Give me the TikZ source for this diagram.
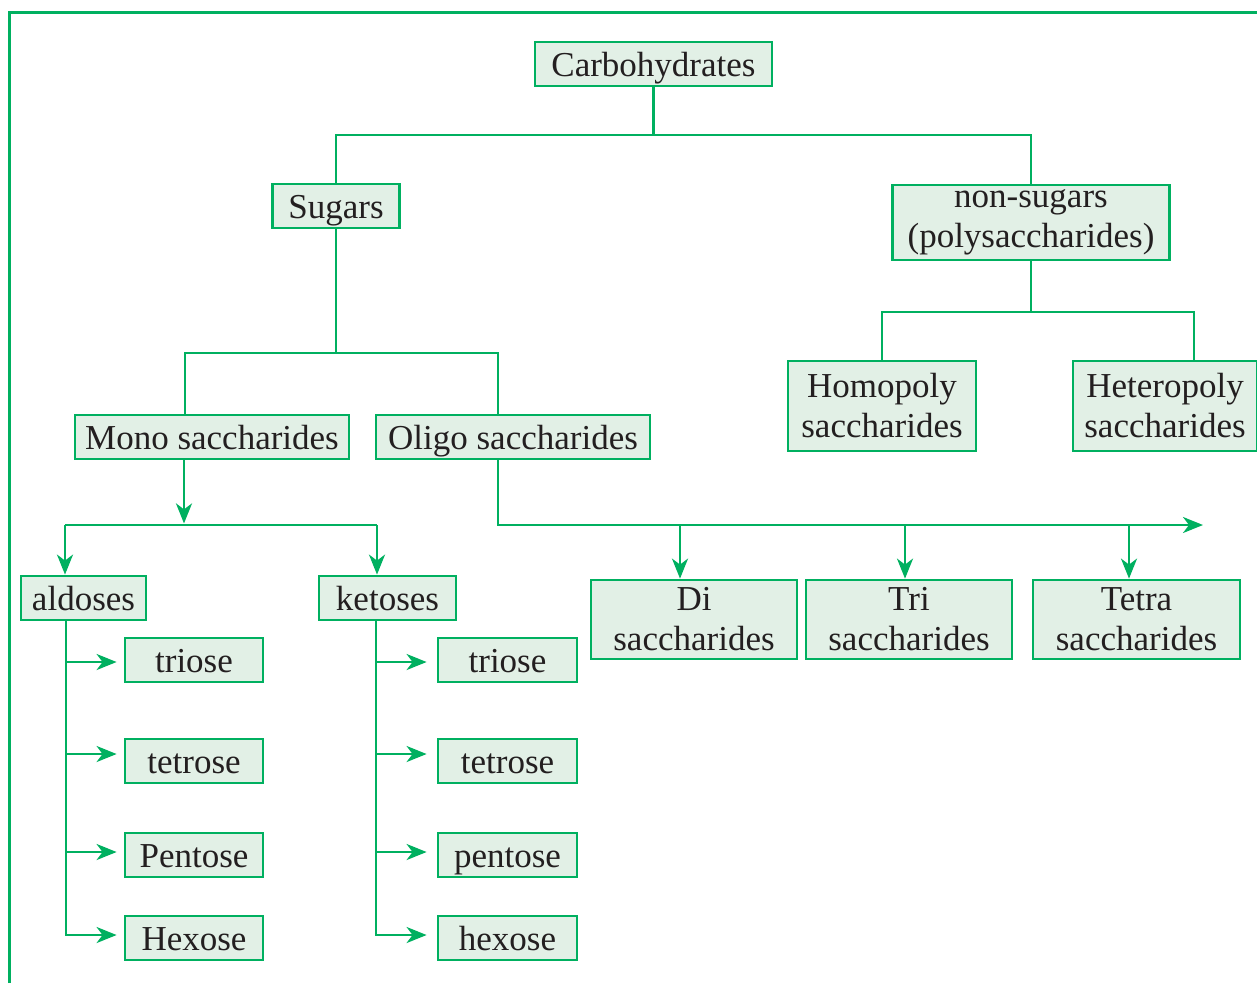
\documentclass[tikz,border=0pt]{standalone}
\usepackage{fontspec}
\setmainfont{Liberation Serif}
\usetikzlibrary{arrows.meta}
\definecolor{grn}{RGB}{0,176,96}
\definecolor{boxfill}{RGB}{226,240,230}
\definecolor{ink}{RGB}{35,31,32}
\begin{document}
\begin{tikzpicture}[x=1pt,y=-1pt,
  box/.style={draw=grn,fill=boxfill,line width=2.8pt,inner sep=0pt,align=center,
              text=ink,font=\fontsize{35}{40}\selectfont},
  one/.style={box,text height=30pt,text depth=6pt},
  link/.style={draw=grn,line width=2.6pt},
  arr/.style={link,-{Stealth[length=20pt,width=16pt,inset=6pt]}},
  rarr/.style={link,{Stealth[length=20pt,width=16pt,inset=6pt]}-}]
\useasboundingbox (0,0) rectangle (1257,983);
% outer frame
\draw[grn,line width=3pt] (9,983) -- (9,12) -- (1257,12);

% boxes
\node[one,minimum width=237,minimum height=44] (carb) at (653.5,64) {Carbohydrates};
\node[one,minimum width=127,minimum height=44] (sugars) at (336,206) {Sugars};
\node[box,minimum width=277,minimum height=75] (nonsug) at (1031,222.5) {non-sugars\\(polysaccharides)};
\node[box,minimum width=188,minimum height=90] (homo) at (882,406) {Homopoly\\saccharides};
\node[box,minimum width=184,minimum height=90] (hetero) at (1165,406) {Heteropoly\\saccharides};
\node[one,minimum width=274,minimum height=44] (mono) at (212,437) {Mono saccharides};
\node[one,minimum width=274,minimum height=44] (oligo) at (513,437) {Oligo saccharides};
\node[one,minimum width=125,minimum height=44] (aldoses) at (83.5,598) {aldoses};
\node[one,minimum width=137,minimum height=44] (ketoses) at (387.5,598) {ketoses};
\node[box,minimum width=206,minimum height=79] (di) at (694,619.5) {Di\\saccharides};
\node[box,minimum width=206,minimum height=79] (tri) at (909,619.5) {Tri\\saccharides};
\node[box,minimum width=207,minimum height=79] (tetra) at (1136.5,619.5) {Tetra\\saccharides};

\node[one,minimum width=138,minimum height=44] (atri) at (194,660) {triose};
\node[one,minimum width=138,minimum height=44] (atet) at (194,761) {tetrose};
\node[one,minimum width=138,minimum height=44] (apen) at (194,855) {Pentose};
\node[one,minimum width=138,minimum height=44] (ahex) at (194,938) {Hexose};

\node[one,minimum width=139,minimum height=44] (ktri) at (507.5,660) {triose};
\node[one,minimum width=139,minimum height=44] (ktet) at (507.5,761) {tetrose};
\node[one,minimum width=139,minimum height=44] (kpen) at (507.5,855) {pentose};
\node[one,minimum width=139,minimum height=44] (khex) at (507.5,938) {hexose};

% junction points
\coordinate (j1) at (653.5,135);
\coordinate (j2) at (336,353);
\coordinate (j3) at (1031,312);
\coordinate (al) at (65,525);
\coordinate (kl) at (377,525);
\coordinate (oe) at (1203,525);
\coordinate (d1) at (680,525);
\coordinate (t1) at (905,525);
\coordinate (q1) at (1129,525);
\coordinate (av) at (66,0);
\coordinate (kv) at (376,0);

% Carbohydrates -> Sugars / non-sugars
\draw[link] (carb.south) -- (j1);
\draw[link] (sugars.north) |- (j1) -| (nonsug.north);

% non-sugars -> Homopoly / Heteropoly
\draw[link] (nonsug.south) -- (j3);
\draw[link] (homo.north) |- (j3) -| ([xshift=29pt]hetero.north);

% Sugars -> Mono / Oligo
\draw[link] (sugars.south) -- (j2);
\draw[link] ([xshift=-27pt]mono.north) |- (j2) -| ([xshift=-15pt]oligo.north);

% Mono -> aldoses / ketoses
\draw[arr] ([xshift=-28pt]mono.south) -- ++(0,63);
\draw[link] (al) -- (kl);
\draw[arr] (al) -- (aldoses.north -| al);
\draw[arr] (kl) -- (ketoses.north -| kl);

% Oligo -> Di / Tri / Tetra
\draw[arr] ([xshift=-15pt]oligo.south) |- (oe);
\draw[arr] (d1) -- (di.north -| d1);
\draw[arr] (t1) -- (tri.north -| t1);
\draw[arr] (q1) -- (tetra.north -| q1);

% aldoses branches
\draw[arr] (aldoses.south -| av) |- ([xshift=-7pt,yshift=3pt]ahex.west);
\draw[rarr] ([xshift=-7pt,yshift=-2pt]atri.west) -- ++(-52,0);
\draw[rarr] ([xshift=-7pt,yshift=7pt]atet.west) -- ++(-52,0);
\draw[rarr] ([xshift=-7pt,yshift=3pt]apen.west) -- ++(-52,0);

% ketoses branches
\draw[arr] (ketoses.south -| kv) |- ([xshift=-10pt,yshift=3pt]khex.west);
\draw[rarr] ([xshift=-10pt,yshift=-2pt]ktri.west) -- ++(-52,0);
\draw[rarr] ([xshift=-10pt,yshift=7pt]ktet.west) -- ++(-52,0);
\draw[rarr] ([xshift=-10pt,yshift=3pt]kpen.west) -- ++(-52,0);
\end{tikzpicture}
\end{document}
